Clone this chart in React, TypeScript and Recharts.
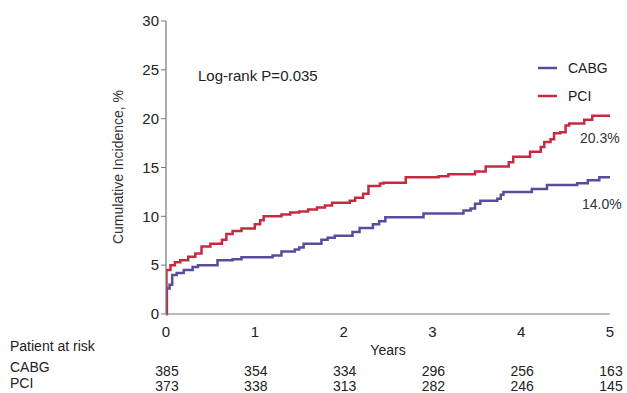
import React from "react";
import { LineChart, Line, XAxis, YAxis } from "recharts";

const cabgTimes = [0, 0.01, 0.04, 0.07, 0.12, 0.2, 0.3, 0.36, 0.58, 0.75, 0.85, 1.2, 1.3, 1.45, 1.5, 1.55, 1.75, 1.82, 1.9, 2.1, 2.18, 2.33, 2.4, 2.47, 2.9, 3.35, 3.43, 3.48, 3.54, 3.73, 3.77, 3.8, 4.12, 4.29, 4.63, 4.75, 4.88, 5.0];
const cabgValues = [0, 2.6, 3.0, 4.0, 4.2, 4.5, 4.8, 5.0, 5.5, 5.6, 5.8, 6.0, 6.4, 6.6, 6.8, 7.2, 7.6, 7.8, 8.0, 8.4, 8.8, 9.2, 9.5, 9.9, 10.3, 10.6, 10.8, 11.3, 11.6, 11.8, 12.2, 12.5, 12.8, 13.2, 13.4, 13.7, 14.0, 14.0];

const pciTimes = [0, 0.005, 0.05, 0.1, 0.16, 0.25, 0.33, 0.4, 0.5, 0.63, 0.68, 0.75, 0.85, 1.0, 1.06, 1.1, 1.3, 1.4, 1.5, 1.6, 1.7, 1.79, 1.87, 2.07, 2.13, 2.22, 2.28, 2.41, 2.45, 2.7, 3.07, 3.18, 3.48, 3.6, 3.86, 3.91, 4.1, 4.22, 4.26, 4.33, 4.37, 4.44, 4.5, 4.54, 4.71, 4.8, 5.0];
const pciValues = [0, 4.5, 5.0, 5.3, 5.5, 5.85, 6.2, 6.9, 7.2, 7.6, 8.2, 8.5, 8.75, 9.2, 9.6, 10.0, 10.2, 10.4, 10.5, 10.7, 10.9, 11.1, 11.4, 11.6, 11.9, 12.3, 13.1, 13.35, 13.45, 14.0, 14.1, 14.3, 14.6, 15.1, 15.55, 16.1, 16.6, 17.1, 17.6, 17.9, 18.5, 18.6, 19.3, 19.5, 19.9, 20.3, 20.3];

const xTicks = [0, 1, 2, 3, 4, 5];
const yTicks = [0, 5, 10, 15, 20, 25, 30];
const cabgAtRisk = [385, 354, 334, 296, 256, 163];
const pciAtRisk = [373, 338, 313, 282, 246, 145];

const seriesNames = ["CABG", "PCI"];
const finalLabels = ["14.0%", "20.3%"];
const pValueText = "Log-rank P=0.035";

const PURPLE = "#5b4b9d";
const RED = "#c52b40";
const FONT = "Arial, 'Liberation Sans', sans-serif";

const cabgData = cabgTimes.map((t, i) => ({ t, v: cabgValues[i] }));
const pciData = pciTimes.map((t, i) => ({ t, v: pciValues[i] }));

const XTick = (props: any) => {
  const { x, y, payload, index } = props;
  return (
    <g>
      <text x={x} y={y + 15} textAnchor="middle" fontSize={15} fill="#222" fontFamily={FONT}>
        {payload.value}
      </text>
      <text x={x + 1} y={y + 54} textAnchor="middle" fontSize={14} fill="#222" fontFamily={FONT}>
        {cabgAtRisk[index]}
      </text>
      <text x={x + 1} y={y + 69} textAnchor="middle" fontSize={14} fill="#222" fontFamily={FONT}>
        {pciAtRisk[index]}
      </text>
    </g>
  );
};

export default function App() {
  return (
    <div style={{ position: "absolute", left: 0, top: 0, width: 627, height: 393, background: "#fff", fontFamily: FONT }}>
      <LineChart width={627} height={393} margin={{ top: 21, right: 17, bottom: 59, left: 126 }}>
        <XAxis
          type="number"
          dataKey="t"
          domain={[0, 5]}
          ticks={xTicks}
          tick={<XTick />}
          tickLine={false}
          axisLine={{ stroke: "#777", strokeWidth: 1.2 }}
          height={20}
          interval={0}
          allowDataOverflow
        />
        <YAxis
          type="number"
          dataKey="v"
          domain={[0, 30]}
          ticks={yTicks}
          width={40}
          tickSize={5}
          tickLine={{ stroke: "#777" }}
          axisLine={{ stroke: "#777", strokeWidth: 1.2 }}
          tick={{ fontSize: 15, fill: "#222", fontFamily: FONT }}
          interval={0}
        />
        <Line data={cabgData} dataKey="v" type="stepAfter" stroke={PURPLE} strokeWidth={2.5} dot={false} isAnimationActive={false} />
        <Line data={pciData} dataKey="v" type="stepAfter" stroke={RED} strokeWidth={2.5} dot={false} isAnimationActive={false} />
        <text x={118} y={167} transform="rotate(-90 118 167)" textAnchor="middle" dominantBaseline="central" fontSize={14} fill="#333" fontFamily={FONT}>
          Cumulative Incidence, %
        </text>
        <text x={198} y={75} dominantBaseline="central" fontSize={15} fill="#222" fontFamily={FONT}>
          {pValueText}
        </text>
        <line x1={538} x2={557} y1={68} y2={68} stroke={PURPLE} strokeWidth={2.5} />
        <text x={568} y={68} dominantBaseline="central" fontSize={14} fill="#222" fontFamily={FONT}>
          {seriesNames[0]}
        </text>
        <line x1={538} x2={557} y1={96} y2={96} stroke={RED} strokeWidth={2.5} />
        <text x={568} y={96} dominantBaseline="central" fontSize={14} fill="#222" fontFamily={FONT}>
          {seriesNames[1]}
        </text>
        <text x={580} y={138} dominantBaseline="central" fontSize={14} fill="#333" fontFamily={FONT}>
          {finalLabels[1]}
        </text>
        <text x={582} y={204} dominantBaseline="central" fontSize={14} fill="#333" fontFamily={FONT}>
          {finalLabels[0]}
        </text>
        <text x={388} y={350} textAnchor="middle" dominantBaseline="central" fontSize={14} fill="#222" fontFamily={FONT}>
          Years
        </text>
        <text x={10} y={346} dominantBaseline="central" fontSize={14} fill="#222" fontFamily={FONT}>
          Patient at risk
        </text>
        <text x={10} y={367} dominantBaseline="central" fontSize={14} fill="#222" fontFamily={FONT}>
          {seriesNames[0]}
        </text>
        <text x={10} y={383} dominantBaseline="central" fontSize={14} fill="#222" fontFamily={FONT}>
          {seriesNames[1]}
        </text>
      </LineChart>
    </div>
  );
}
